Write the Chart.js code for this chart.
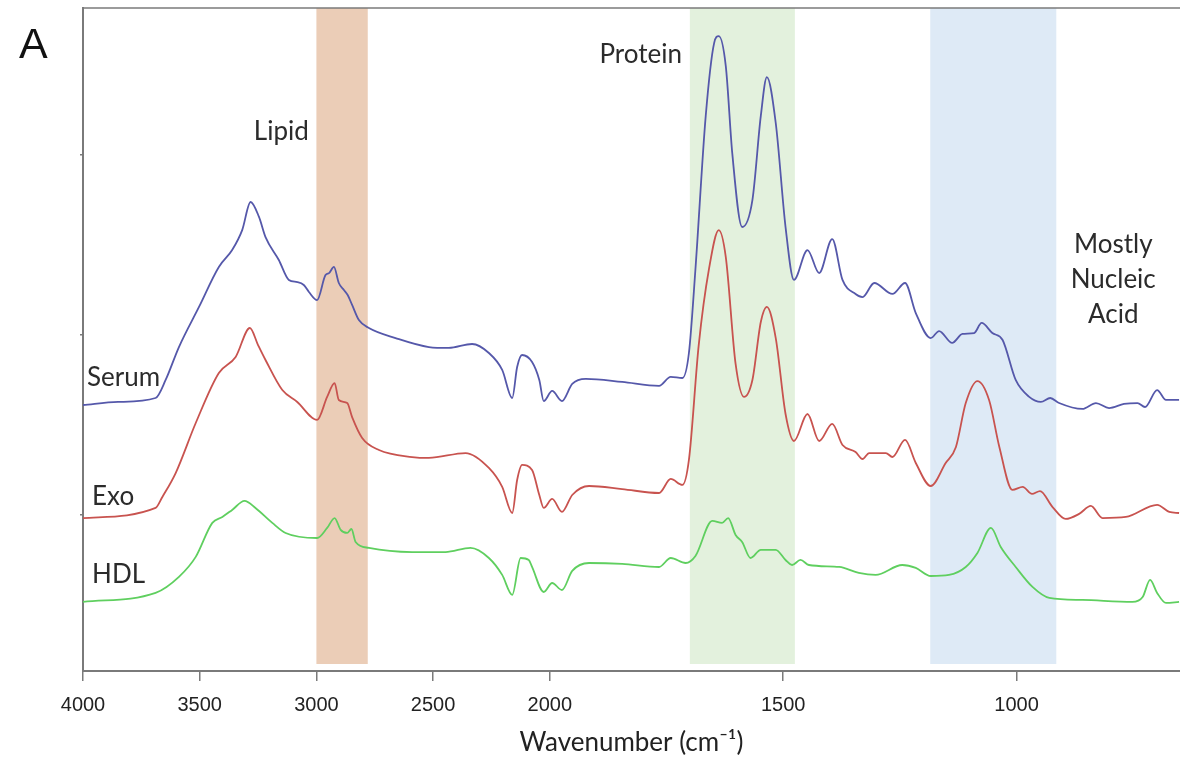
<!DOCTYPE html>
<html>
<head>
<meta charset="utf-8">
<script src="https://cdn.jsdelivr.net/npm/chart.js@4.4.0/dist/chart.umd.min.js"></script>
<style>
  html, body { margin: 0; padding: 0; background: #fff; }
</style>
</head>
<body>
<canvas id="ftirChart" width="1180" height="761"></canvas>
<script>
// ---- spectra (wavenumber in cm-1, absorbance in offset a.u.) ----
const serumWn = [4000, 3850, 3689, 3646, 3589, 3503, 3418, 3361, 3318, 3282, 3246, 3218, 3161, 3118, 3082, 3054, 3032, 2997, 2961, 2946, 2925, 2904, 2882, 2866, 2847, 2818, 2775, 2661, 2518, 2433, 2333, 2261, 2204, 2161, 2140, 2119, 2076, 2045, 2026, 1995, 1974, 1952, 1923, 1845, 1766, 1741, 1716, 1702, 1688, 1666, 1648, 1638, 1623, 1609, 1588, 1566, 1548, 1535, 1516, 1495, 1477, 1448, 1423, 1395, 1373, 1345, 1330, 1305, 1266, 1239, 1216, 1184, 1166, 1138, 1116, 1091, 1075, 1052, 1030, 1002, 973, 948, 928, 909, 859, 830, 802, 770, 741, 725, 699, 680, 652];
const serumAbs = [1.611, 1.628, 1.650, 1.750, 1.933, 2.156, 2.378, 2.472, 2.583, 2.739, 2.656, 2.544, 2.417, 2.306, 2.294, 2.278, 2.239, 2.194, 2.333, 2.344, 2.378, 2.289, 2.250, 2.222, 2.167, 2.083, 2.039, 1.983, 1.933, 1.928, 1.950, 1.900, 1.806, 1.650, 1.822, 1.889, 1.850, 1.750, 1.633, 1.689, 1.633, 1.728, 1.756, 1.739, 1.717, 1.767, 1.761, 1.900, 2.367, 3.217, 3.622, 3.661, 3.494, 3.006, 2.600, 2.750, 3.217, 3.433, 3.178, 2.600, 2.306, 2.472, 2.344, 2.533, 2.306, 2.228, 2.211, 2.289, 2.228, 2.289, 2.122, 1.983, 2.022, 1.956, 2.006, 2.011, 2.067, 2.011, 1.972, 1.750, 1.656, 1.628, 1.650, 1.622, 1.589, 1.622, 1.594, 1.617, 1.622, 1.600, 1.694, 1.639, 1.639];

const exoWn = [4000, 3689, 3660, 3603, 3517, 3418, 3346, 3285, 3250, 3218, 3146, 3082, 2997, 2954, 2922, 2904, 2868, 2847, 2804, 2732, 2590, 2518, 2361, 2261, 2204, 2161, 2140, 2119, 2076, 2045, 2026, 1995, 1974, 1952, 1916, 1845, 1766, 1741, 1716, 1702, 1681, 1659, 1638, 1623, 1602, 1584, 1566, 1548, 1535, 1516, 1495, 1477, 1448, 1423, 1395, 1373, 1345, 1330, 1316, 1280, 1266, 1239, 1216, 1184, 1152, 1130, 1109, 1084, 1059, 1037, 1009, 987, 967, 950, 923, 895, 866, 841, 816, 766, 699, 673, 652];
const exoAbs = [0.983, 1.039, 1.100, 1.233, 1.511, 1.789, 1.878, 2.039, 1.944, 1.861, 1.694, 1.628, 1.528, 1.656, 1.733, 1.639, 1.622, 1.544, 1.428, 1.361, 1.322, 1.317, 1.344, 1.261, 1.156, 1.011, 1.194, 1.278, 1.250, 1.111, 1.039, 1.089, 1.017, 1.111, 1.161, 1.144, 1.122, 1.200, 1.167, 1.306, 1.944, 2.367, 2.583, 2.433, 1.839, 1.656, 1.750, 2.072, 2.156, 1.983, 1.561, 1.411, 1.561, 1.411, 1.506, 1.389, 1.350, 1.311, 1.344, 1.344, 1.322, 1.417, 1.289, 1.161, 1.289, 1.378, 1.622, 1.744, 1.639, 1.378, 1.139, 1.156, 1.117, 1.133, 1.044, 0.978, 1.006, 1.050, 0.983, 0.989, 1.056, 1.017, 1.011];

const hdlWn = [4000, 3689, 3589, 3517, 3446, 3403, 3361, 3308, 3261, 3189, 3132, 2997, 2954, 2922, 2896, 2868, 2850, 2832, 2775, 2590, 2447, 2340, 2261, 2204, 2161, 2125, 2090, 2076, 2026, 1995, 1974, 1952, 1916, 1845, 1766, 1741, 1709, 1688, 1652, 1631, 1618, 1602, 1588, 1570, 1548, 1516, 1495, 1481, 1463, 1445, 1380, 1338, 1302, 1245, 1216, 1184, 1145, 1109, 1084, 1055, 1034, 1002, 966, 930, 859, 752, 730, 714, 699, 680, 652];
const hdlAbs = [0.517, 0.567, 0.656, 0.767, 0.956, 0.989, 1.028, 1.078, 1.039, 0.956, 0.900, 0.872, 0.928, 0.983, 0.917, 0.900, 0.922, 0.850, 0.817, 0.794, 0.794, 0.817, 0.761, 0.667, 0.556, 0.761, 0.750, 0.711, 0.572, 0.622, 0.583, 0.689, 0.733, 0.728, 0.711, 0.761, 0.733, 0.772, 0.967, 0.956, 0.983, 0.889, 0.850, 0.761, 0.806, 0.806, 0.750, 0.722, 0.750, 0.722, 0.711, 0.678, 0.667, 0.722, 0.706, 0.661, 0.667, 0.711, 0.789, 0.928, 0.822, 0.711, 0.600, 0.539, 0.528, 0.517, 0.544, 0.639, 0.567, 0.511, 0.517];

const xTickValues = [4000, 3500, 3000, 2500, 2000, 1500, 1000];
const bandNames = ['Lipid', 'Protein', 'Nucleic acid'];
const bandRanges = [[3000, 2780], [1700, 1475], [1185, 915]];

const seriesNames = ['Serum', 'Exo', 'HDL'];

// ---- styling ----
const lineColors = ['#5558aa', '#c8534f', '#5fcf5f'];
const bandColors = ['rgba(232, 196, 170, 0.85)', 'rgba(226, 240, 219, 0.95)', 'rgba(220, 233, 246, 0.95)'];
const axisColor = '#7a7a7a';
const textFont = 'Lato, "Open Sans", sans-serif';

// annotations placed in data space (wavenumber, absorbance)
const notes = [
    { text: 'Lipid', wn: 3268, abs: 3.083, align: 'left' },
    { text: 'Protein', wn: 1717, abs: 3.513, align: 'right' },
    { text: 'Mostly', wn: 793, abs: 2.456, align: 'center' },
    { text: 'Nucleic', wn: 793, abs: 2.261, align: 'center' },
    { text: 'Acid', wn: 793, abs: 2.067, align: 'center' },
    { text: 'Serum', wn: 3983, abs: 1.717, align: 'left' },
    { text: 'Exo', wn: 3961, abs: 1.056, align: 'left' },
    { text: 'HDL', wn: 3961, abs: 0.622, align: 'left' }
];

// the x axis is expanded 2x below 2000 cm-1, as FTIR plots usually are
const breakAt = 2000;
const toAxisUnits = (wn) => wn >= breakAt ? 4000 - wn : (4000 - breakAt) + 2 * (breakAt - wn);
const fromAxisUnits = (u) => u <= 4000 - breakAt ? 4000 - u : breakAt - (u - (4000 - breakAt)) / 2;

class BrokenScale extends Chart.LinearScale {
    getPixelForValue(value) {
        const start = toAxisUnits(this.max);
        const span = toAxisUnits(this.min) - start;
        return this.getPixelForDecimal((toAxisUnits(value) - start) / span);
    }
    getValueForPixel(pixel) {
        const start = toAxisUnits(this.max);
        const span = toAxisUnits(this.min) - start;
        return fromAxisUnits(start + this.getDecimalForPixel(pixel) * span);
    }
}
BrokenScale.id = 'broken';
BrokenScale.defaults = Chart.LinearScale.defaults;
Chart.register(BrokenScale);

const toPoints = (wn, abs) => wn.map((w, i) => ({ x: w, y: abs[i] }));

const bandsPlugin = {
    id: 'bands',
    beforeDatasetsDraw(chart) {
        const { ctx, chartArea, scales: { x } } = chart;
        ctx.save();
        bandRanges.forEach((b, i) => {
            const x1 = x.getPixelForValue(b[0]);
            const x2 = x.getPixelForValue(b[1]);
            ctx.fillStyle = bandColors[i];
            ctx.fillRect(x1, chartArea.top, x2 - x1, chartArea.bottom - 7 - chartArea.top);
        });
        ctx.restore();
    }
};

const notesPlugin = {
    id: 'notes',
    afterDatasetsDraw(chart) {
        const { ctx, chartArea, scales: { x, y } } = chart;
        ctx.save();
        ctx.fillStyle = '#2b2b2b';
        ctx.font = '26px ' + textFont;
        ctx.textBaseline = 'alphabetic';
        notes.forEach(n => {
            ctx.textAlign = n.align;
            ctx.fillText(n.text, x.getPixelForValue(n.wn), y.getPixelForValue(n.abs));
        });
        // top frame line
        ctx.strokeStyle = axisColor;
        ctx.lineWidth = 1.5;
        ctx.beginPath();
        ctx.moveTo(chartArea.left, chartArea.top);
        ctx.lineTo(chartArea.right, chartArea.top);
        ctx.stroke();
        // panel letter
        ctx.fillStyle = '#111';
        ctx.textAlign = 'left';
        ctx.font = '43px "Liberation Sans", Arial, sans-serif';
        ctx.fillText('A', 19, 58);
        ctx.restore();
    }
};

const datasets = [
    toPoints(serumWn, serumAbs),
    toPoints(exoWn, exoAbs),
    toPoints(hdlWn, hdlAbs)
].map((pts, i) => ({
    label: seriesNames[i],
    data: pts,
    borderColor: lineColors[i],
    borderWidth: 1.8,
    pointRadius: 0,
    fill: false,
    cubicInterpolationMode: 'monotone'
}));

new Chart(document.getElementById('ftirChart'), {
    type: 'line',
    data: { datasets },
    plugins: [bandsPlugin, notesPlugin],
    options: {
        responsive: false,
        animation: false,
        layout: { padding: { top: 8, right: 0, left: 0, bottom: 0 } },
        plugins: { legend: { display: false }, tooltip: { enabled: false } },
        scales: {
            x: {
                type: 'broken',
                min: 650,
                max: 4000,
                afterBuildTicks: (scale) => { scale.ticks = xTickValues.map(v => ({ value: v })); },
                afterFit: (scale) => { scale.height = 90; },
                ticks: {
                    autoSkip: false,
                    maxRotation: 0,
                    padding: 12,
                    color: '#222',
                    font: { family: '"Liberation Sans", Arial, sans-serif', size: 20 },
                    callback: (v) => String(v)
                },
                grid: { drawOnChartArea: false, drawTicks: true, tickLength: 10, color: axisColor, lineWidth: 1.5 },
                border: { display: true, color: axisColor, width: 2 },
                title: {
                    display: true,
                    text: 'Wavenumber (cm\u207B\u00B9)',
                    color: '#222',
                    font: { family: textFont, size: 26 },
                    padding: { top: 0, bottom: 3 }
                }
            },
            y: {
                type: 'linear',
                min: 0.133,
                max: 3.817,
                afterBuildTicks: (scale) => { scale.ticks = [1, 2, 3].map(v => ({ value: v })); },
                afterFit: (scale) => { scale.width = 83; },
                ticks: { display: false },
                grid: { drawOnChartArea: false, drawTicks: true, tickLength: 3, color: axisColor, lineWidth: 1.5 },
                border: { display: true, color: axisColor, width: 2 }
            }
        }
    }
});
</script>
</body>
</html>
